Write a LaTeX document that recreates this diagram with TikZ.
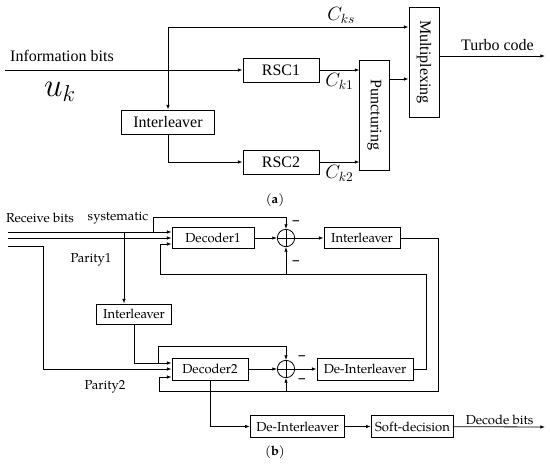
\documentclass[tikz,border=0pt]{standalone}
\usepackage{fontspec}
\setmainfont{Liberation Serif}
\newfontfamily\pala{texgyrepagella-regular.otf}[BoldFont=texgyrepagella-bold.otf]
\usetikzlibrary{arrows.meta}
\tikzstyle{block}=[draw, inner sep=0pt, font=\fontsize{12}{14}\selectfont]
\tikzstyle{bblock}=[draw, inner sep=0pt, font=\pala\fontsize{9.8}{12}\selectfont]
\tikzstyle{lbl}=[inner sep=1pt, font=\pala\fontsize{9.8}{12}\selectfont]
\tikzstyle{clbl}=[font=\fontsize{14}{16}\selectfont]
\tikzstyle{sum}=[circle, draw, inner sep=0pt, minimum size=13pt,
  path picture={\draw (path picture bounding box.north) -- (path picture bounding box.south)
  (path picture bounding box.west) -- (path picture bounding box.east);}]
\tikzstyle{arr}=[-{Latex[length=3.5pt,width=2.6pt]}]
\newcommand{\block}{\node[block]}
\newcommand{\bblock}{\node[bblock]}

\begin{document}
\begin{tikzpicture}[x=0.75pt, y=-0.75pt, line width=0.6pt]
\useasboundingbox (0,0) rectangle (550,464);
% (a) encoder
\block[minimum width=70pt, minimum height=18pt] (il1) at (168,122) {Interleaver};
\block[minimum width=57pt, minimum height=18pt] (rsc1) at (281,70) {RSC1};
\block[minimum width=57pt, minimum height=18pt] (rsc2) at (281,162) {RSC2};
\block[minimum width=22pt, minimum height=82.5pt] (punc) at (374.5,115) {\rotatebox{-90}{Puncturing}};
\block[minimum width=22.5pt, minimum height=82.5pt] (mux) at (424,62) {\rotatebox{-90}{Multiplexing}};
\coordinate (in) at (5,70);
\coordinate (top) at (168,27);
\coordinate (pm) at (389,79);
\coordinate (out) at (545,56);
\node[font=\fontsize{12}{14}\selectfont] (info) at (62,56) {Information bits};
\node (uk) at (60,92) {\fontsize{24}{28}\selectfont $u_k$};
\draw[arr] (in) -- (rsc1.west);
\draw[arr] (top) -- (il1.north);
\draw[arr] (top) -- (top -| mux.west) node[pos=0.72, above=-1pt, clbl] {$C_{ks}$};
\draw[arr] (il1.south) |- (rsc2.west);
\draw[arr] (rsc1.east) -- (rsc1.east -| punc.west) node[midway, below=-1pt, clbl] {$C_{k1}$};
\draw[arr] (rsc2.east) -- (rsc2.east -| punc.west) node[midway, below=-1pt, clbl] {$C_{k2}$};
\draw[arr] (punc.east |- pm) -- (pm -| mux.west);
\draw[arr] (mux.east |- out) -- (out) node[pos=0.55, above, font=\fontsize{12}{14}\selectfont] {Turbo code};
\node[lbl] (capa) at (275,200) {(\textbf{a})};
% (b) decoder
\bblock[minimum width=61.5pt, minimum height=16pt] (dec1) at (213,238) {Decoder1};
\node[sum] (s1) at (286,238) {};
\bblock[minimum width=57pt, minimum height=16pt] (il2) at (362,238) {Interleaver};
\bblock[minimum width=56pt, minimum height=15pt] (il3) at (134,314) {Interleaver};
\bblock[minimum width=57pt, minimum height=16.5pt] (dec2) at (210,369) {Decoder2};
\node[sum] (s2) at (286,369) {};
\bblock[minimum width=72pt, minimum height=16.5pt] (dil1) at (365,369) {De-Interleaver};
\bblock[minimum width=71pt, minimum height=16pt] (dil2) at (297.5,426.5) {De-Interleaver};
\bblock[minimum width=62pt, minimum height=16pt] (sd) at (412.5,426.5) {Soft-decision};
\coordinate (sys) at (8,232);
\coordinate (par1) at (8,238);
\coordinate (par2) at (8,246);
\coordinate (p2) at (43,369);
\coordinate (sb) at (153,217);
\coordinate (pb) at (124,232);
\coordinate (r1) at (438,391);
\coordinate (fb2) at (159,377);
\coordinate (r2) at (426,274);
\coordinate (fb1) at (160,244);
\coordinate (d2in) at (134,363);
\coordinate (tb) at (158,346);
\coordinate (dec) at (545,427);
\node[lbl] (rb) at (40,218) {Receive bits};
\node[lbl] (sy) at (118,218) {systematic};
\node[lbl] (pa1) at (91,260) {Parity1};
\node[lbl] (pa2) at (105,387) {Parity2};
\node[lbl] (m1) at (296,223) {\textbf{–}};
\node[lbl] (m2) at (296,263) {\textbf{–}};
\node[lbl] (m3) at (302,358) {\textbf{–}};
\node[lbl] (m4) at (302,381) {\textbf{–}};
\draw[arr] (sys) -- (sys -| dec1.west);
\draw[arr] (par1) -- (par1 -| dec1.west);
\draw[arr] (par2) -| (p2) -- (p2 -| dec2.west);
\draw[arr] (sys -| sb) -- (sb) -| (s1.north);
\draw[arr] (pb) -- (pb |- il3.north);
\draw[arr] (dec1) -- (s1);
\draw[arr] (s1) -- (il2);
\draw[arr] (il2.east) -| (r1) -| (fb2) -- (fb2 -| dec2.west);
\draw[arr] (s2 |- r1) -- (s2.south);
\draw[arr] (dil1.east) -| (r2) -| (fb1) -- (fb1 -| dec1.west);
\draw[arr] (s1 |- r2) -- (s1.south);
\draw[arr] (il3.south) |- (d2in -| dec2.west);
\draw[arr] (d2in -| tb) -- (tb) -| (s2.north);
\draw[arr] (dec2) -- (s2);
\draw[arr] (s2) -- (dil1);
\draw[arr] (dec2.south) |- (dil2.west);
\draw[arr] (dil2) -- (sd);
\draw[arr] (sd) -- (dec) node[midway, above, lbl] {Decode bits};
\node[lbl] (capb) at (275,452) {(\textbf{b})};
\end{tikzpicture}
\end{document}
